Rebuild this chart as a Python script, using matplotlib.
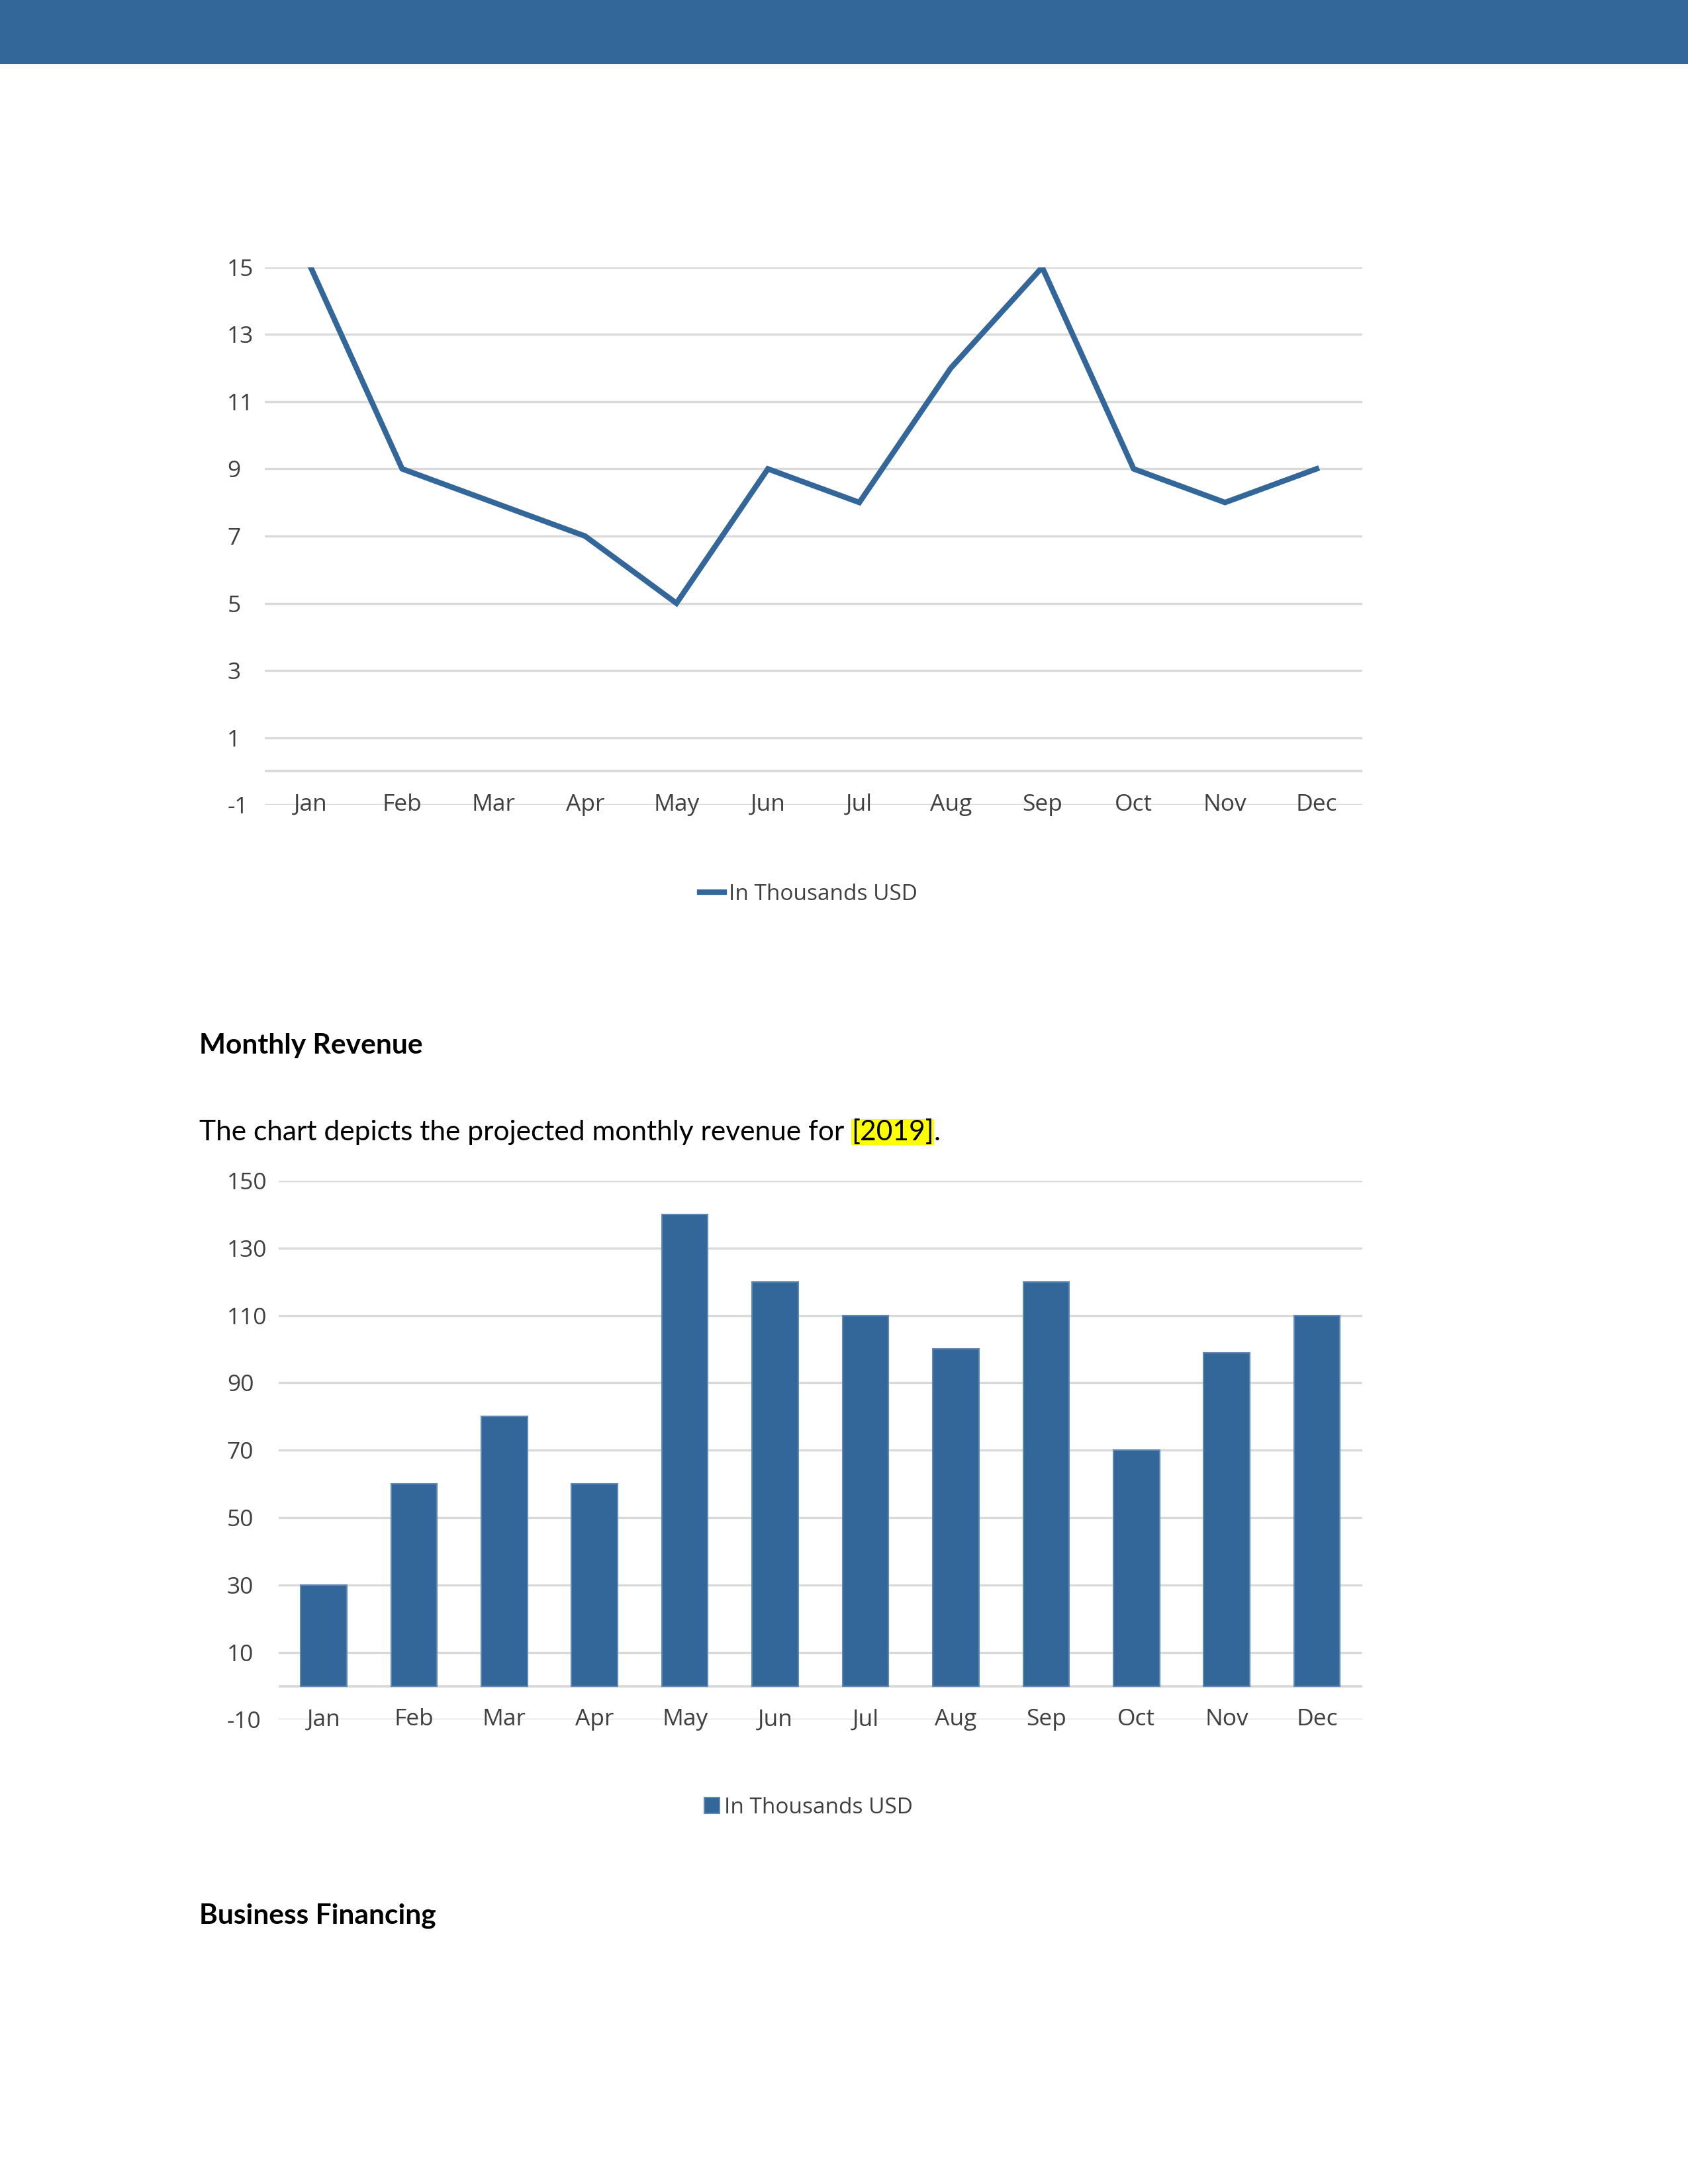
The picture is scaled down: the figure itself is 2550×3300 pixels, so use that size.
import matplotlib.pyplot as plt
from matplotlib.patches import Rectangle

months = ["Jan", "Feb", "Mar", "Apr", "May", "Jun", "Jul", "Aug", "Sep", "Oct", "Nov", "Dec"]
profit = [15, 9, 8, 7, 5, 9, 8, 12, 15, 9, 8, 9]
revenue = [30, 60, 80, 60, 140, 120, 110, 100, 120, 70, 99, 110]
line_ticks = [-1, 1, 3, 5, 7, 9, 11, 13, 15]
bar_ticks = [-10, 10, 30, 50, 70, 90, 110, 130, 150]
series_name = "In Thousands USD"

blue = "#336699"
grid_col = "#d9d9d9"
label_col = "#404040"
chart_font = ["Open Sans", "DejaVu Sans"]
body_font = ["Lato", "DejaVu Sans"]
plt.rcParams["axes.unicode_minus"] = False

fig = plt.figure(figsize=(8.5, 11), dpi=300)
fig.add_artist(Rectangle((0, 0.9706), 1, 0.0294, transform=fig.transFigure,
                         facecolor=blue, edgecolor="none"))


def style(ax, ticks, pad):
    ax.set_xlim(-0.5, len(months) - 0.5)
    ax.set_ylim(ticks[0], ticks[-1])
    ax.set_yticks(ticks)
    ax.set_xticks([])
    ax.grid(axis="y", color=grid_col, lw=0.8)
    ax.axhline(0, color=grid_col, lw=0.9, zorder=0.5)
    ax.set_axisbelow(True)
    for s in ax.spines.values():
        s.set_visible(False)
    ax.tick_params(axis="y", length=0, pad=pad, labelsize=8.5, labelcolor=label_col)
    for lab in ax.get_yticklabels():
        lab.set_horizontalalignment("left")
        lab.set_family(chart_font)
    for i, m in enumerate(months):
        ax.text(i, ticks[0], m, ha="center", va="center", fontsize=8.5,
                color=label_col, family=chart_font, clip_on=False)


# line chart
ax1 = fig.add_axes([0.157, 0.6315, 0.650, 0.2461])
ax1.plot(range(len(months)), profit, color=blue, lw=2.0, label=series_name,
         solid_joinstyle="miter")
style(ax1, line_ticks, 13.7)
leg1 = ax1.legend(loc="center", bbox_to_anchor=(0.479, 0.5906), bbox_transform=fig.transFigure,
                  frameon=False, handlelength=1.1, handletextpad=0.2,
                  prop={"family": chart_font, "size": 8})
for t in leg1.get_texts():
    t.set_color(label_col)

# bar chart
ax2 = fig.add_axes([0.165, 0.2126, 0.642, 0.2468])
ax2.bar(range(len(months)), revenue, width=0.51, color=blue, edgecolor="#5f88b2",
        lw=0.5, label=series_name)
style(ax2, bar_ticks, 18.7)
leg2 = ax2.legend(loc="center", bbox_to_anchor=(0.479, 0.1724), bbox_transform=fig.transFigure,
                  frameon=False, handlelength=0.7, handleheight=0.75, handletextpad=0.2,
                  prop={"family": chart_font, "size": 8})
for t in leg2.get_texts():
    t.set_color(label_col)

# document text
fs = 10.2
fig.text(0.118, 0.5212, "Monthly Revenue", fontsize=fs, fontweight="bold",
         family=body_font, va="center", color="black")
t1 = fig.text(0.118, 0.4779, "The chart depicts the projected monthly revenue for ",
              fontsize=fs, family=body_font, va="baseline", color="black")
t2 = ax2.annotate("[2019]", xy=(1, 0), xycoords=t1, va="bottom", ha="left",
                  fontsize=fs, family=body_font, annotation_clip=False,
                  bbox=dict(boxstyle="square,pad=0", fc="yellow", ec="none"))
ax2.annotate(".", xy=(1, 0), xycoords=t2, va="bottom", ha="left",
             fontsize=fs, family=body_font, annotation_clip=False)
fig.text(0.118, 0.1227, "Business Financing", fontsize=fs, fontweight="bold",
         family=body_font, va="center", color="black")

fig.savefig("out.png", dpi=300, facecolor="white")
